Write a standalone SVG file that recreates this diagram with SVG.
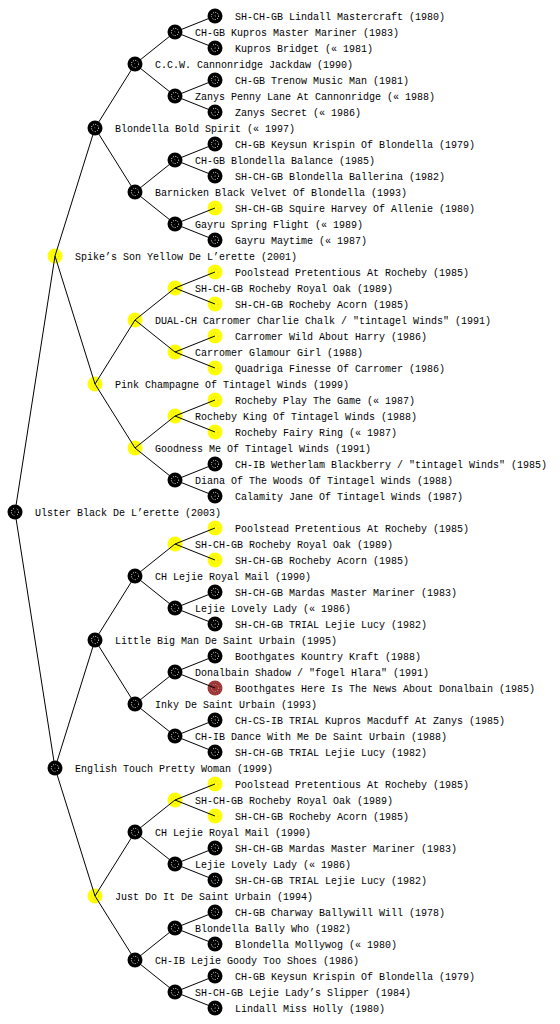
<svg xmlns="http://www.w3.org/2000/svg" xmlns:xlink="http://www.w3.org/1999/xlink" width="560" height="1024" viewBox="0 0 560 1024">
<style>
text{font-family:"Liberation Mono","DejaVu Sans Mono",monospace;font-size:10px;fill:#000}
#edges line{stroke:#000;stroke-width:1}
.ring{fill:none;stroke-width:1;stroke-dasharray:1 1.4}
</style>
<defs>
<g id="nb"><circle r="7.5" fill="#000"/><circle class="ring" r="3.6" stroke="#fff"/><circle r="1" fill="#555"/></g>
<g id="ny"><circle r="7.5" fill="#ffff00"/><circle class="ring" r="3.6" stroke="#d8d840"/></g>
<g id="nr"><circle r="7.5" fill="#993333"/><circle class="ring" r="3.6" stroke="#e0a0a0"/><circle class="ring" r="6" stroke="#b86060"/></g>
</defs>
<rect width="560" height="1024" fill="#fff"/>
<g id="nodes">
<g id="n0"><use xlink:href="#nb" href="#nb" x="15" y="512"/><text x="35" y="516">Ulster Black De L’erette (2003)</text></g>
<g id="n1a"><use xlink:href="#ny" href="#ny" x="55" y="256"/><text x="75" y="260">Spike’s Son Yellow De L’erette (2001)</text></g>
<g id="n1b"><use xlink:href="#nb" href="#nb" x="55" y="768"/><text x="75" y="772">English Touch Pretty Woman (1999)</text></g>
<g id="n2a"><use xlink:href="#nb" href="#nb" x="95" y="128"/><text x="115" y="132">Blondella Bold Spirit (« 1997)</text></g>
<g id="n2b"><use xlink:href="#ny" href="#ny" x="95" y="384"/><text x="115" y="388">Pink Champagne Of Tintagel Winds (1999)</text></g>
<g id="n2c"><use xlink:href="#nb" href="#nb" x="95" y="640"/><text x="115" y="644">Little Big Man De Saint Urbain (1995)</text></g>
<g id="n2d"><use xlink:href="#ny" href="#ny" x="95" y="896"/><text x="115" y="900">Just Do It De Saint Urbain (1994)</text></g>
<g id="n3a"><use xlink:href="#nb" href="#nb" x="135" y="64"/><text x="155" y="68">C.C.W. Cannonridge Jackdaw (1990)</text></g>
<g id="n3b"><use xlink:href="#nb" href="#nb" x="135" y="192"/><text x="155" y="196">Barnicken Black Velvet Of Blondella (1993)</text></g>
<g id="n3c"><use xlink:href="#ny" href="#ny" x="135" y="320"/><text x="155" y="324">DUAL-CH Carromer Charlie Chalk / "tintagel Winds" (1991)</text></g>
<g id="n3d"><use xlink:href="#ny" href="#ny" x="135" y="448"/><text x="155" y="452">Goodness Me Of Tintagel Winds (1991)</text></g>
<g id="n3e"><use xlink:href="#nb" href="#nb" x="135" y="576"/><text x="155" y="580">CH Lejie Royal Mail (1990)</text></g>
<g id="n3f"><use xlink:href="#nb" href="#nb" x="135" y="704"/><text x="155" y="708">Inky De Saint Urbain (1993)</text></g>
<g id="n3g"><use xlink:href="#nb" href="#nb" x="135" y="832"/><text x="155" y="836">CH Lejie Royal Mail (1990)</text></g>
<g id="n3h"><use xlink:href="#nb" href="#nb" x="135" y="960"/><text x="155" y="964">CH-IB Lejie Goody Too Shoes (1986)</text></g>
<g id="n4a"><use xlink:href="#nb" href="#nb" x="175" y="32"/><text x="195" y="36">CH-GB Kupros Master Mariner (1983)</text></g>
<g id="n4b"><use xlink:href="#nb" href="#nb" x="175" y="96"/><text x="195" y="100">Zanys Penny Lane At Cannonridge (« 1988)</text></g>
<g id="n4c"><use xlink:href="#nb" href="#nb" x="175" y="160"/><text x="195" y="164">CH-GB Blondella Balance (1985)</text></g>
<g id="n4d"><use xlink:href="#nb" href="#nb" x="175" y="224"/><text x="195" y="228">Gayru Spring Flight (« 1989)</text></g>
<g id="n4e"><use xlink:href="#ny" href="#ny" x="175" y="288"/><text x="195" y="292">SH-CH-GB Rocheby Royal Oak (1989)</text></g>
<g id="n4f"><use xlink:href="#ny" href="#ny" x="175" y="352"/><text x="195" y="356">Carromer Glamour Girl (1988)</text></g>
<g id="n4g"><use xlink:href="#ny" href="#ny" x="175" y="416"/><text x="195" y="420">Rocheby King Of Tintagel Winds (1988)</text></g>
<g id="n4h"><use xlink:href="#nb" href="#nb" x="175" y="480"/><text x="195" y="484">Diana Of The Woods Of Tintagel Winds (1988)</text></g>
<g id="n4i"><use xlink:href="#ny" href="#ny" x="175" y="544"/><text x="195" y="548">SH-CH-GB Rocheby Royal Oak (1989)</text></g>
<g id="n4j"><use xlink:href="#nb" href="#nb" x="175" y="608"/><text x="195" y="612">Lejie Lovely Lady (« 1986)</text></g>
<g id="n4k"><use xlink:href="#nb" href="#nb" x="175" y="672"/><text x="195" y="676">Donalbain Shadow / "fogel Hlara" (1991)</text></g>
<g id="n4l"><use xlink:href="#nb" href="#nb" x="175" y="736"/><text x="195" y="740">CH-IB Dance With Me De Saint Urbain (1988)</text></g>
<g id="n4m"><use xlink:href="#ny" href="#ny" x="175" y="800"/><text x="195" y="804">SH-CH-GB Rocheby Royal Oak (1989)</text></g>
<g id="n4n"><use xlink:href="#nb" href="#nb" x="175" y="864"/><text x="195" y="868">Lejie Lovely Lady (« 1986)</text></g>
<g id="n4o"><use xlink:href="#nb" href="#nb" x="175" y="928"/><text x="195" y="932">Blondella Bally Who (1982)</text></g>
<g id="n4p"><use xlink:href="#nb" href="#nb" x="175" y="992"/><text x="195" y="996">SH-CH-GB Lejie Lady’s Slipper (1984)</text></g>
<g id="n5a"><use xlink:href="#nb" href="#nb" x="215" y="16"/><text x="235" y="20">SH-CH-GB Lindall Mastercraft (1980)</text></g>
<g id="n5b"><use xlink:href="#nb" href="#nb" x="215" y="48"/><text x="235" y="52">Kupros Bridget (« 1981)</text></g>
<g id="n5c"><use xlink:href="#nb" href="#nb" x="215" y="80"/><text x="235" y="84">CH-GB Trenow Music Man (1981)</text></g>
<g id="n5d"><use xlink:href="#nb" href="#nb" x="215" y="112"/><text x="235" y="116">Zanys Secret (« 1986)</text></g>
<g id="n5e"><use xlink:href="#nb" href="#nb" x="215" y="144"/><text x="235" y="148">CH-GB Keysun Krispin Of Blondella (1979)</text></g>
<g id="n5f"><use xlink:href="#nb" href="#nb" x="215" y="176"/><text x="235" y="180">SH-CH-GB Blondella Ballerina (1982)</text></g>
<g id="n5g"><use xlink:href="#ny" href="#ny" x="215" y="208"/><text x="235" y="212">SH-CH-GB Squire Harvey Of Allenie (1980)</text></g>
<g id="n5h"><use xlink:href="#nb" href="#nb" x="215" y="240"/><text x="235" y="244">Gayru Maytime (« 1987)</text></g>
<g id="n5i"><use xlink:href="#ny" href="#ny" x="215" y="272"/><text x="235" y="276">Poolstead Pretentious At Rocheby (1985)</text></g>
<g id="n5j"><use xlink:href="#ny" href="#ny" x="215" y="304"/><text x="235" y="308">SH-CH-GB Rocheby Acorn (1985)</text></g>
<g id="n5k"><use xlink:href="#ny" href="#ny" x="215" y="336"/><text x="235" y="340">Carromer Wild About Harry (1986)</text></g>
<g id="n5l"><use xlink:href="#ny" href="#ny" x="215" y="368"/><text x="235" y="372">Quadriga Finesse Of Carromer (1986)</text></g>
<g id="n5m"><use xlink:href="#ny" href="#ny" x="215" y="400"/><text x="235" y="404">Rocheby Play The Game (« 1987)</text></g>
<g id="n5n"><use xlink:href="#ny" href="#ny" x="215" y="432"/><text x="235" y="436">Rocheby Fairy Ring (« 1987)</text></g>
<g id="n5o"><use xlink:href="#nb" href="#nb" x="215" y="464"/><text x="235" y="468">CH-IB Wetherlam Blackberry / "tintagel Winds" (1985)</text></g>
<g id="n5p"><use xlink:href="#nb" href="#nb" x="215" y="496"/><text x="235" y="500">Calamity Jane Of Tintagel Winds (1987)</text></g>
<g id="n5q"><use xlink:href="#ny" href="#ny" x="215" y="528"/><text x="235" y="532">Poolstead Pretentious At Rocheby (1985)</text></g>
<g id="n5r"><use xlink:href="#ny" href="#ny" x="215" y="560"/><text x="235" y="564">SH-CH-GB Rocheby Acorn (1985)</text></g>
<g id="n5s"><use xlink:href="#nb" href="#nb" x="215" y="592"/><text x="235" y="596">SH-CH-GB Mardas Master Mariner (1983)</text></g>
<g id="n5t"><use xlink:href="#nb" href="#nb" x="215" y="624"/><text x="235" y="628">SH-CH-GB TRIAL Lejie Lucy (1982)</text></g>
<g id="n5u"><use xlink:href="#nb" href="#nb" x="215" y="656"/><text x="235" y="660">Boothgates Kountry Kraft (1988)</text></g>
<g id="n5v"><use xlink:href="#nr" href="#nr" x="215" y="688"/><text x="235" y="692">Boothgates Here Is The News About Donalbain (1985)</text></g>
<g id="n5w"><use xlink:href="#nb" href="#nb" x="215" y="720"/><text x="235" y="724">CH-CS-IB TRIAL Kupros Macduff At Zanys (1985)</text></g>
<g id="n5x"><use xlink:href="#nb" href="#nb" x="215" y="752"/><text x="235" y="756">SH-CH-GB TRIAL Lejie Lucy (1982)</text></g>
<g id="n5y"><use xlink:href="#ny" href="#ny" x="215" y="784"/><text x="235" y="788">Poolstead Pretentious At Rocheby (1985)</text></g>
<g id="n5z"><use xlink:href="#ny" href="#ny" x="215" y="816"/><text x="235" y="820">SH-CH-GB Rocheby Acorn (1985)</text></g>
<g id="n5aa"><use xlink:href="#nb" href="#nb" x="215" y="848"/><text x="235" y="852">SH-CH-GB Mardas Master Mariner (1983)</text></g>
<g id="n5ab"><use xlink:href="#nb" href="#nb" x="215" y="880"/><text x="235" y="884">SH-CH-GB TRIAL Lejie Lucy (1982)</text></g>
<g id="n5ac"><use xlink:href="#nb" href="#nb" x="215" y="912"/><text x="235" y="916">CH-GB Charway Ballywill Will (1978)</text></g>
<g id="n5ad"><use xlink:href="#nb" href="#nb" x="215" y="944"/><text x="235" y="948">Blondella Mollywog (« 1980)</text></g>
<g id="n5ae"><use xlink:href="#nb" href="#nb" x="215" y="976"/><text x="235" y="980">CH-GB Keysun Krispin Of Blondella (1979)</text></g>
<g id="n5af"><use xlink:href="#nb" href="#nb" x="215" y="1008"/><text x="235" y="1012">Lindall Miss Holly (1980)</text></g>
</g>
<g id="edges">
<line x1="15" y1="512" x2="55" y2="256"/><line x1="15" y1="512" x2="55" y2="768"/>
<line x1="55" y1="256" x2="95" y2="128"/><line x1="55" y1="256" x2="95" y2="384"/>
<line x1="55" y1="768" x2="95" y2="640"/><line x1="55" y1="768" x2="95" y2="896"/>
<line x1="95" y1="128" x2="135" y2="64"/><line x1="95" y1="128" x2="135" y2="192"/>
<line x1="95" y1="384" x2="135" y2="320"/><line x1="95" y1="384" x2="135" y2="448"/>
<line x1="95" y1="640" x2="135" y2="576"/><line x1="95" y1="640" x2="135" y2="704"/>
<line x1="95" y1="896" x2="135" y2="832"/><line x1="95" y1="896" x2="135" y2="960"/>
<line x1="135" y1="64" x2="175" y2="32"/><line x1="135" y1="64" x2="175" y2="96"/>
<line x1="135" y1="192" x2="175" y2="160"/><line x1="135" y1="192" x2="175" y2="224"/>
<line x1="135" y1="320" x2="175" y2="288"/><line x1="135" y1="320" x2="175" y2="352"/>
<line x1="135" y1="448" x2="175" y2="416"/><line x1="135" y1="448" x2="175" y2="480"/>
<line x1="135" y1="576" x2="175" y2="544"/><line x1="135" y1="576" x2="175" y2="608"/>
<line x1="135" y1="704" x2="175" y2="672"/><line x1="135" y1="704" x2="175" y2="736"/>
<line x1="135" y1="832" x2="175" y2="800"/><line x1="135" y1="832" x2="175" y2="864"/>
<line x1="135" y1="960" x2="175" y2="928"/><line x1="135" y1="960" x2="175" y2="992"/>
<line x1="175" y1="32" x2="215" y2="16"/><line x1="175" y1="32" x2="215" y2="48"/>
<line x1="175" y1="96" x2="215" y2="80"/><line x1="175" y1="96" x2="215" y2="112"/>
<line x1="175" y1="160" x2="215" y2="144"/><line x1="175" y1="160" x2="215" y2="176"/>
<line x1="175" y1="224" x2="215" y2="208"/><line x1="175" y1="224" x2="215" y2="240"/>
<line x1="175" y1="288" x2="215" y2="272"/><line x1="175" y1="288" x2="215" y2="304"/>
<line x1="175" y1="352" x2="215" y2="336"/><line x1="175" y1="352" x2="215" y2="368"/>
<line x1="175" y1="416" x2="215" y2="400"/><line x1="175" y1="416" x2="215" y2="432"/>
<line x1="175" y1="480" x2="215" y2="464"/><line x1="175" y1="480" x2="215" y2="496"/>
<line x1="175" y1="544" x2="215" y2="528"/><line x1="175" y1="544" x2="215" y2="560"/>
<line x1="175" y1="608" x2="215" y2="592"/><line x1="175" y1="608" x2="215" y2="624"/>
<line x1="175" y1="672" x2="215" y2="656"/><line x1="175" y1="672" x2="215" y2="688"/>
<line x1="175" y1="736" x2="215" y2="720"/><line x1="175" y1="736" x2="215" y2="752"/>
<line x1="175" y1="800" x2="215" y2="784"/><line x1="175" y1="800" x2="215" y2="816"/>
<line x1="175" y1="864" x2="215" y2="848"/><line x1="175" y1="864" x2="215" y2="880"/>
<line x1="175" y1="928" x2="215" y2="912"/><line x1="175" y1="928" x2="215" y2="944"/>
<line x1="175" y1="992" x2="215" y2="976"/><line x1="175" y1="992" x2="215" y2="1008"/>
</g>
</svg>
